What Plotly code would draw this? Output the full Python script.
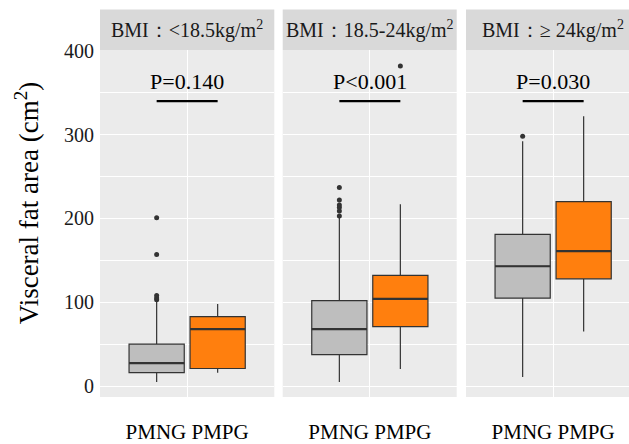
import plotly.graph_objects as go

# ---------------- data ----------------
panels = ["BMI：&lt;18.5kg/m<sup>2</sup>", "BMI：18.5-24kg/m<sup>2</sup>", "BMI：≥ 24kg/m<sup>2</sup>"]
groups = ["PMNG", "PMPG"]
tick_label = "PMNG PMPG"
p_texts = ["P=0.140", "P&lt;0.001", "P=0.030"]
p_line_y = 340
p_text_y = 363

# per panel, per group: [lowerfence, q1, median, q3, upperfence]
stats_pmng = [[5, 16, 27.5, 50, 101], [5, 37.5, 68, 102, 201], [11, 105, 143, 181, 292]]
stats_pmpg = [[16, 21, 68, 83, 98], [20.5, 71, 104, 132, 217], [65, 128, 161, 220, 322]]
outliers_pmng = [[103, 105, 108, 157, 201], [203, 209, 213, 216, 222, 237], [298]]
outliers_pmpg = [[], [382], []]

y_ticks = [0, 100, 200, 300, 400]

# ---------------- style ----------------
colors = {"PMNG": "#BEBEBE", "PMPG": "#FF7F0E"}
edge = "#333333"
FONT = "Liberation Serif"
DODGE = 0.21
BOXW = 0.38
W, H = 629, 444
ML, MR, MT, MB = 100, 0, 50, 43
pw = W - ML - MR
ph = H - MT - MB
panel_px = [(100, 274.3), (282.7, 456.7), (466, 629)]
unit_px = (274.3 - 100) / 1.2

fig = go.Figure()
stats = {"PMNG": stats_pmng, "PMPG": stats_pmpg}
outs = {"PMNG": outliers_pmng, "PMPG": outliers_pmpg}

for i in range(3):
    xa = "x" if i == 0 else f"x{i+1}"
    ya = "y" if i == 0 else f"y{i+1}"
    centers = []
    for j, g in enumerate(groups):
        pos = 1 + DODGE * (2 * j - 1)
        centers.append(pos)
        lo, q1, med, q3, hi = stats[g][i]
        fig.add_trace(go.Box(
            x=[pos], q1=[q1], median=[med], q3=[q3], lowerfence=[lo], upperfence=[hi],
            width=BOXW, fillcolor=colors[g], line=dict(color=edge, width=1.2),
            whiskerwidth=0, boxpoints=False, showlegend=False, xaxis=xa, yaxis=ya,
            hoverinfo="skip"))
        # thicker median
        fig.add_trace(go.Scatter(
            x=[pos - BOXW / 2, pos + BOXW / 2], y=[med, med], mode="lines",
            line=dict(color=edge, width=2.2), showlegend=False, xaxis=xa, yaxis=ya,
            hoverinfo="skip"))
        if outs[g][i]:
            fig.add_trace(go.Scatter(
                x=[pos] * len(outs[g][i]), y=outs[g][i], mode="markers",
                marker=dict(color=edge, size=5), showlegend=False, xaxis=xa, yaxis=ya,
                hoverinfo="skip"))
    # p-value line
    fig.add_trace(go.Scatter(
        x=centers, y=[p_line_y, p_line_y], mode="lines",
        line=dict(color="black", width=2.2), showlegend=False, xaxis=xa, yaxis=ya,
        hoverinfo="skip"))
    fig.add_annotation(x=1, y=p_text_y, xref=xa, yref=ya, text=p_texts[i],
                       showarrow=False, font=dict(family=FONT, size=22, color="black"),
                       xanchor="center", yanchor="middle")
    # strip
    fig.add_shape(type="rect", xref=f"{xa} domain", yref=f"{ya} domain",
                  x0=0, x1=1, y0=1, y1=1 + 41 / ph, fillcolor="#D9D9D9",
                  line=dict(width=0), layer="below")
    fig.add_annotation(x=1, y=1 + 20.5 / ph, xref=xa, yref=f"{ya} domain",
                       text=panels[i], showarrow=False,
                       font=dict(family=FONT, size=20, color="#1A1A1A"),
                       xanchor="center", yanchor="middle")

layout = dict(
    width=W, height=H, margin=dict(l=ML, r=MR, t=MT, b=MB),
    paper_bgcolor="white", plot_bgcolor="#EBEBEB", showlegend=False,
    font=dict(family=FONT, color="#1A1A1A"),
)
for i in range(3):
    x0, x1 = panel_px[i]
    dom = [(x0 - ML) / pw, min(1, (x1 - ML) / pw)]
    rng_hi = 0.4 + (x1 - x0) / unit_px
    key = "xaxis" if i == 0 else f"xaxis{i+1}"
    ykey = "yaxis" if i == 0 else f"yaxis{i+1}"
    layout[key] = dict(
        domain=dom, range=[0.4, rng_hi], tickvals=[1], ticktext=[tick_label],
        showgrid=True, gridcolor="white", gridwidth=1.2, zeroline=False, ticks="",
        tickfont=dict(family=FONT, size=21, color="black"), ticklabelstandoff=20,
        anchor="y" if i == 0 else f"y{i+1}", fixedrange=True)
    layout[ykey] = dict(
        range=[-13, 401], tickvals=y_ticks, showgrid=True, gridcolor="white",
        gridwidth=1.2, zeroline=False, ticks="",
        minor=dict(dtick=50, tick0=50, showgrid=True, gridcolor="white", gridwidth=0.6),
        showticklabels=(i == 0), tickfont=dict(family=FONT, size=20, color="#1A1A1A"),
        ticklabelstandoff=5,
        anchor="x" if i == 0 else f"x{i+1}", fixedrange=True)
    if i > 0:
        layout[ykey]["matches"] = "y"

fig.update_layout(**layout)
fig.add_annotation(x=(27 - ML) / pw, y=(H - MB - 205) / ph, xref="paper", yref="y domain",
                   text="Visceral fat area (cm<sup>2</sup>)", textangle=-90, showarrow=False,
                   font=dict(family=FONT, size=27, color="black"),
                   xanchor="center", yanchor="middle")

fig.write_html("out.html", config={"displayModeBar": False},
               post_script="document.body.style.margin='0';document.body.style.overflow='hidden';")
